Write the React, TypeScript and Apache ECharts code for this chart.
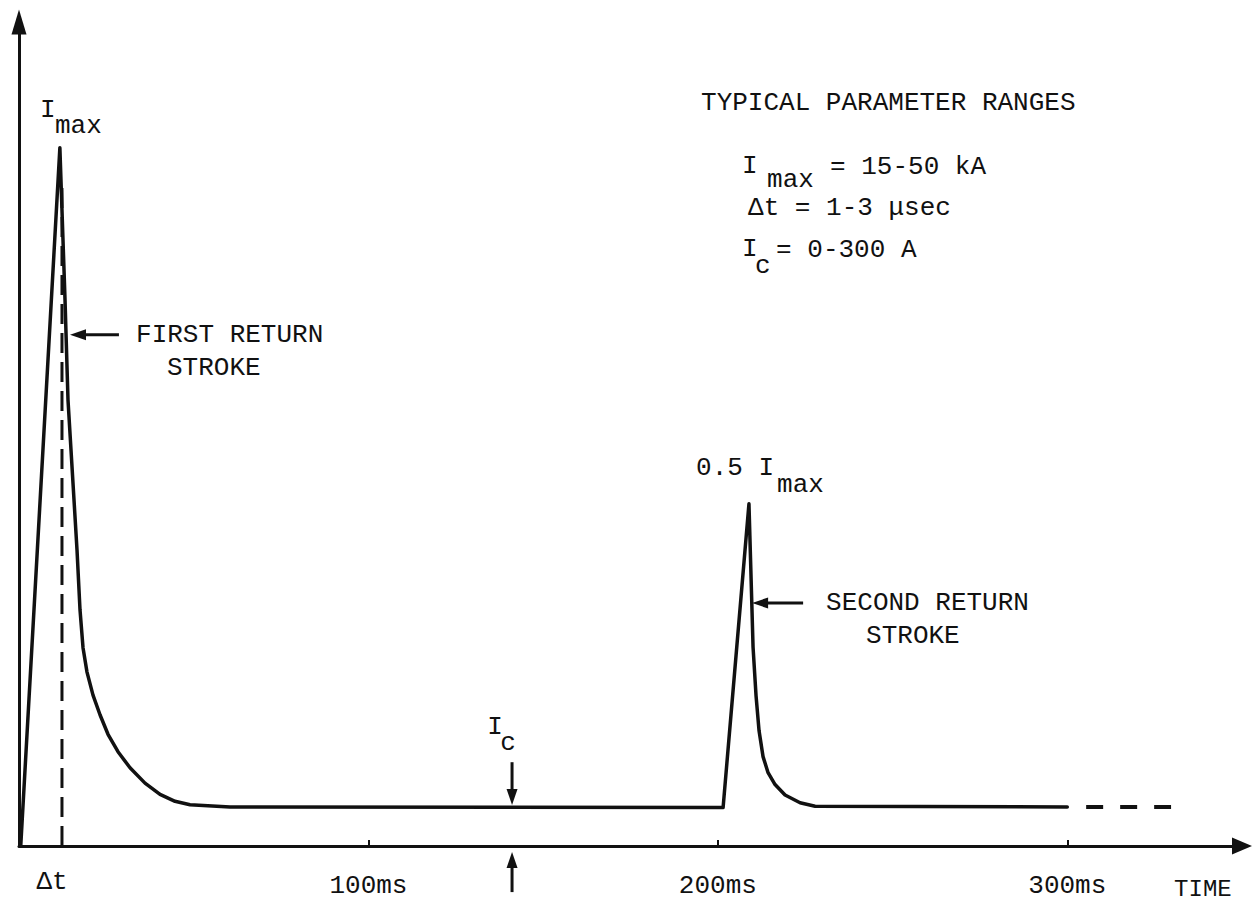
import React, { useEffect, useRef } from 'react';
import * as echarts from 'echarts';

// Time in ms, current as a fraction of I_max
const strokeCurve: [number, number][] = [
  [0.5, 0], [11.7, 1.0], [13.17, 0.782], [14.02, 0.639], [16.6, 0.424], [17.46, 0.338],
  [18.32, 0.284], [19.46, 0.249], [21.18, 0.216], [23.18, 0.188], [25.47, 0.16],
  [28.33, 0.135], [31.77, 0.112], [36.06, 0.09], [40.36, 0.074], [44.65, 0.064],
  [48.94, 0.059], [60.39, 0.056], [201.5, 0.055], [208.9, 0.49], [210.07, 0.285],
  [210.93, 0.215], [211.79, 0.165], [212.93, 0.128], [214.37, 0.105], [216.37, 0.088],
  [219.23, 0.073], [223.53, 0.062], [227.82, 0.057], [300, 0.056],
];
const continuationTail: [number, number][] = [[305.4, 0.056], [329.7, 0.056]];
const deltaTMarker: [number, number][] = [[12.3, 0], [12.3, 0.95]];

const tickValues = [100, 200, 300];
const tickLabels = ['100ms', '200ms', '300ms'];

type Note = { text: string; at: [number, number]; align?: string };
const textNotes: Note[] = [
  { text: 'I', at: [6.01, 1.054] },
  { text: 'max', at: [10.3, 1.031] },
  { text: 'FIRST RETURN', at: [33.49, 0.732] },
  { text: 'STROKE', at: [42.36, 0.685] },
  { text: 'TYPICAL PARAMETER RANGES', at: [195.19, 1.064] },
  { text: 'I', at: [206.93, 0.974] },
  { text: 'max', at: [214.08, 0.954] },
  { text: '= 15-50 kA', at: [232.1, 0.972] },
  { text: 'Δt = 1-3 μsec', at: [208.64, 0.914] },
  { text: 'I', at: [206.93, 0.855] },
  { text: 'c', at: [210.65, 0.831] },
  { text: '= 0-300 A', at: [216.66, 0.853] },
  { text: '0.5 I', at: [193.76, 0.541] },
  { text: 'max', at: [216.94, 0.517] },
  { text: 'SECOND RETURN', at: [230.97, 0.348] },
  { text: 'STROKE', at: [242.42, 0.301] },
  { text: 'I', at: [136.23, 0.17], align: 'center' },
  { text: 'c', at: [139.95, 0.1475], align: 'center' },
  { text: 'Δt', at: [9.44, -0.0516], align: 'center' },
  { text: 'TIME', at: [330.56, -0.062] },
];

const arrowNotes: { from: [number, number]; to: [number, number] }[] = [
  { from: [28.6, 0.732], to: [14.6, 0.732] },
  { from: [224.4, 0.348], to: [209.8, 0.348] },
  { from: [141.1, 0.12], to: [141.1, 0.0587] },
  { from: [141.1, -0.066], to: [141.1, -0.0086] },
];

const INK = '#111';
const FONT = '"Liberation Mono", "Courier New", monospace';

export default function App() {
  const ref = useRef<HTMLDivElement>(null);
  useEffect(() => {
    const chart = echarts.init(ref.current!, null, { renderer: 'svg' });
    chart.setOption({
      animation: false,
      backgroundColor: '#fff',
      grid: { left: 19, right: 11, top: 22, bottom: 57, containLabel: false },
      xAxis: {
        type: 'value',
        min: 0,
        max: 350,
        splitLine: { show: false },
        axisLine: {
          show: true,
          symbol: ['none', 'triangle'],
          symbolSize: [17, 20],
          lineStyle: { color: INK, width: 3 },
        },
        axisTick: {
          show: true,
          inside: true,
          length: 6,
          customValues: tickValues,
          lineStyle: { color: INK, width: 2 },
        },
        axisLabel: {
          show: true,
          customValues: tickValues,
          formatter: (v: number) => tickLabels[tickValues.indexOf(v)] ?? '',
          margin: 27,
          color: INK,
          fontFamily: FONT,
          fontSize: 26,
        },
      },
      yAxis: {
        type: 'value',
        min: 0,
        max: 1.18,
        splitLine: { show: false },
        axisTick: { show: false },
        axisLabel: { show: false },
        axisLine: {
          show: true,
          symbol: ['none', 'triangle'],
          symbolSize: [15, 25],
          lineStyle: { color: INK, width: 3 },
        },
      },
      series: [
        {
          type: 'line',
          data: strokeCurve,
          showSymbol: false,
          symbol: 'none',
          lineStyle: { color: INK, width: 3.5, cap: 'round', join: 'round' },
        },
        {
          type: 'line',
          data: continuationTail,
          showSymbol: false,
          symbol: 'none',
          lineStyle: { color: INK, width: 4, type: [17, 17], cap: 'butt' },
        },
        {
          type: 'line',
          data: deltaTMarker,
          showSymbol: false,
          symbol: 'none',
          lineStyle: { color: INK, width: 3, type: [20, 9], cap: 'butt' },
        },
      ],
    });

    const toPx = (p: [number, number]) =>
      chart.convertToPixel({ gridIndex: 0 }, p) as number[];
    const graphics: any[] = [];
    textNotes.forEach((n) => {
      const [x, y] = toPx(n.at);
      graphics.push({
        type: 'text',
        x,
        y,
        silent: true,
        style: {
          text: n.text,
          fill: INK,
          fontFamily: FONT,
          fontSize: n.text === 'TIME' ? 24 : 26,
          textAlign: n.align || 'left',
          textVerticalAlign: 'middle',
          align: n.align || 'left',
          verticalAlign: 'middle',
        },
      });
    });
    const HEAD_L = 16;
    const HEAD_W = 11;
    arrowNotes.forEach((a) => {
      const [x1, y1] = toPx(a.from);
      const [x2, y2] = toPx(a.to);
      const len = Math.hypot(x2 - x1, y2 - y1);
      const dx = (x2 - x1) / len;
      const dy = (y2 - y1) / len;
      const bx = x2 - dx * HEAD_L;
      const by = y2 - dy * HEAD_L;
      const nx = -dy;
      const ny = dx;
      graphics.push({
        type: 'line',
        silent: true,
        shape: { x1, y1, x2: bx + dx * 2, y2: by + dy * 2 },
        style: { stroke: INK, lineWidth: 3 },
      });
      graphics.push({
        type: 'polygon',
        silent: true,
        shape: {
          points: [
            [x2, y2],
            [bx + (nx * HEAD_W) / 2, by + (ny * HEAD_W) / 2],
            [bx - (nx * HEAD_W) / 2, by - (ny * HEAD_W) / 2],
          ],
        },
        style: { fill: INK },
      });
    });
    chart.setOption({ graphic: graphics });
    return () => chart.dispose();
  }, []);
  return (
    <div
      ref={ref}
      style={{ position: 'fixed', left: 0, top: 0, width: 1253, height: 903 }}
    />
  );
}
